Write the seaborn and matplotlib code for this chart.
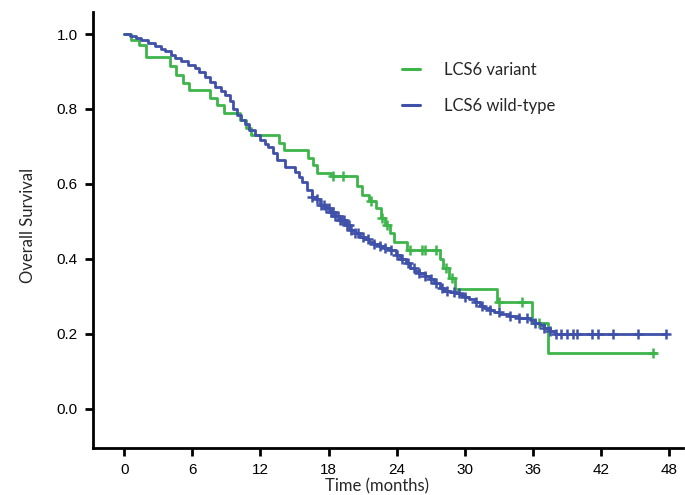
import numpy as np
import pandas as pd
import matplotlib
matplotlib.use("Agg")
import matplotlib.pyplot as plt
import seaborn as sns

# Kaplan-Meier curves (months, survival after step)
variant_time = [0.0, 0.6, 1.3, 1.9, 4.0, 4.6, 5.2, 5.7, 7.6, 8.2, 8.8, 10.2, 10.7,
                11.2, 13.6, 14.1, 16.2, 16.6, 17.0, 18.2, 20.5, 20.9, 21.6, 22.2,
                22.6, 23.0, 23.4, 23.8, 24.9, 27.8, 28.1, 28.6, 29.1, 32.8, 35.9,
                37.3, 46.8]
variant_surv = [1.0, 0.985, 0.97, 0.94, 0.915, 0.89, 0.87, 0.85, 0.83, 0.81, 0.79,
                0.77, 0.75, 0.73, 0.71, 0.69, 0.67, 0.65, 0.63, 0.62, 0.595, 0.57,
                0.555, 0.535, 0.51, 0.49, 0.47, 0.445, 0.425, 0.40, 0.375, 0.35,
                0.32, 0.285, 0.23, 0.15, 0.15]
variant_censor = [18.4, 19.3, 21.7, 22.7, 23.1, 25.2, 26.2, 26.5, 27.5, 28.3,
                  28.9, 33.0, 35.0, 36.5, 46.6]

wild_time = [0.0, 0.5, 1.0, 1.5, 2.1, 2.7, 3.2, 3.6, 4.1, 4.5, 5.0, 5.6, 6.2, 6.6,
             7.1, 7.6, 8.0, 8.5, 8.9, 9.3, 9.6, 9.9, 10.3, 10.6, 11.0, 11.5, 12.0,
             12.4, 12.7, 13.1, 13.5, 14.2, 15.0, 15.4, 15.7, 16.1, 16.5, 16.9,
             17.2, 17.7, 18.1, 18.6, 19.0, 19.5, 19.9, 20.3, 20.8, 21.2, 21.6,
             22.0, 22.5, 23.0, 23.4, 23.9, 24.3, 24.8, 25.2, 25.6, 26.0, 26.5,
             26.9, 27.3, 27.8, 28.2, 28.7, 29.2, 29.6, 30.0, 30.4, 30.9, 31.3,
             31.7, 32.2, 32.6, 33.1, 33.9, 34.8, 35.7, 36.2, 36.6, 37.0, 37.5,
             37.9, 47.7]
wild_surv = [1.0, 0.995, 0.99, 0.985, 0.976, 0.967, 0.96, 0.955, 0.945, 0.936,
             0.928, 0.918, 0.909, 0.898, 0.885, 0.872, 0.859, 0.848, 0.837, 0.82,
             0.80, 0.783, 0.77, 0.76, 0.745, 0.73, 0.718, 0.707, 0.698, 0.683,
             0.665, 0.646, 0.632, 0.618, 0.605, 0.585, 0.566, 0.56, 0.545, 0.535,
             0.525, 0.515, 0.504, 0.49, 0.477, 0.468, 0.459, 0.452, 0.445, 0.44,
             0.435, 0.43, 0.424, 0.41, 0.40, 0.39, 0.376, 0.368, 0.362, 0.355,
             0.347, 0.335, 0.322, 0.315, 0.312, 0.31, 0.305, 0.298, 0.292, 0.284,
             0.275, 0.27, 0.265, 0.258, 0.252, 0.248, 0.243, 0.237, 0.23, 0.224,
             0.216, 0.207, 0.20, 0.20]
wild_censor = [16.5, 17.0, 17.3, 17.6, 17.8, 18.0, 18.2, 18.4, 18.6, 18.8, 19.0,
               19.2, 19.4, 19.6, 19.8, 20.0, 20.3, 20.6, 21.0, 21.5, 22.0, 22.5,
               23.0, 23.5, 24.0, 24.5, 25.0, 25.5, 26.0, 26.5, 27.0, 27.5, 28.0,
               28.4, 29.0, 29.5, 30.0, 31.0, 31.5, 32.2, 33.0, 34.0, 34.8, 35.5,
               36.2, 37.0, 37.5, 38.0, 38.5, 39.0, 39.5, 39.9, 41.2, 41.7, 43.0,
               45.2, 47.7]

GREEN = "#3db54a"
BLUE = "#3f51a8"


def surv_at(times, surv, t):
    # value of the step curve at time t
    idx = np.searchsorted(times, t, side="right") - 1
    return np.asarray(surv)[idx]


def main():
    sns.set_style("ticks")
    plt.rcParams["font.family"] = ["Liberation Sans", "DejaVu Sans"]
    plt.rcParams["xtick.major.size"] = 6
    plt.rcParams["ytick.major.size"] = 6
    plt.rcParams["xtick.major.width"] = 2
    plt.rcParams["ytick.major.width"] = 2

    fig = plt.figure(figsize=(6.85, 4.95), dpi=100)
    ax = fig.add_axes([0.136, 0.095, 0.861, 0.881])

    curves = [
        ("LCS6 variant", variant_time, variant_surv, variant_censor, GREEN),
        ("LCS6 wild-type", wild_time, wild_surv, wild_censor, BLUE),
    ]
    for label, t, s, cens, col in curves:
        df = pd.DataFrame({"time": t, "surv": s})
        sns.lineplot(data=df, x="time", y="surv", ax=ax, color=col, lw=2,
                     drawstyle="steps-post", label=label, estimator=None, sort=False)
        cy = surv_at(t, s, np.array(cens))
        ax.plot(cens, cy, ls="none", marker="+", ms=7, mew=1.8, color=col)

    ax.set_xlim(-2.73, 49.2)
    ax.set_ylim(-0.104, 1.059)
    ax.set_xticks(np.arange(0, 49, 6))
    ax.set_yticks(np.arange(0, 1.01, 0.2))
    ax.set_yticklabels([f"{v:.1f}" for v in np.arange(0, 1.01, 0.2)])

    sns.despine(ax=ax)
    for side in ["left", "bottom"]:
        ax.spines[side].set_linewidth(2)
        ax.spines[side].set_color("black")
    ax.tick_params(axis="both", which="major", bottom=True, left=True,
                   direction="out", length=6, width=2, color="black",
                   labelsize=11, labelcolor="black", pad=5)

    lab_font = {"family": ["Lato", "DejaVu Sans"], "size": 12}
    ax.set_xlabel("Time (months)", fontdict=lab_font)
    ax.set_ylabel("Overall Survival", fontdict=lab_font)
    ax.xaxis.label.set_va("center")
    ax.yaxis.label.set_va("center")
    ax.xaxis.set_label_coords(0.481, -0.087)
    ax.yaxis.set_label_coords(-0.110, 0.511)

    leg = ax.legend(loc="upper left", bbox_to_anchor=(0.565, 0.905),
                    bbox_transform=fig.transFigure, frameon=False,
                    handlelength=1.1, handletextpad=1.4, labelspacing=1.2,
                    prop={"family": ["Lato", "DejaVu Sans"], "size": 12})
    for line in leg.get_lines():
        line.set_linewidth(2.2)

    fig.savefig("out.png", dpi=100)
    plt.close(fig)


if __name__ == "__main__":
    main()
